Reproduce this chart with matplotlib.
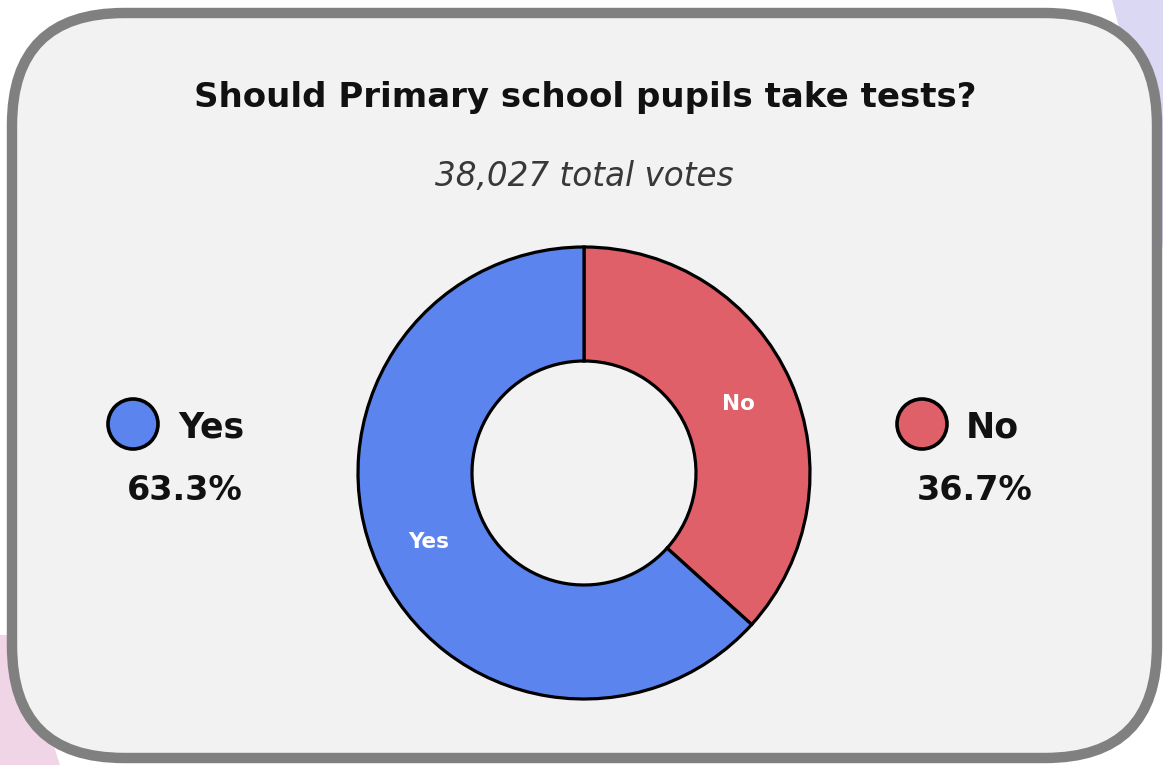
import matplotlib
matplotlib.use("Agg")
import matplotlib.pyplot as plt
from matplotlib.patches import FancyBboxPatch, Circle, Polygon

answers = ["No", "Yes"]
shares = [36.7, 63.3]
colors = ["#e0606a", "#5b84ef"]
title = "Should Primary school pupils take tests?"
subtitle = "38,027 total votes"

W, H = 1163, 765
fig = plt.figure(figsize=(W / 100, H / 100), dpi=100)
ax = fig.add_axes([0, 0, 1, 1])

# faint slide decoration behind the card
ax.add_patch(Polygon([(1112, H), (W, H), (W, H - 250), (1150, H - 150)],
                     closed=True, color="#d4d2f2", alpha=0.85, lw=0))
ax.add_patch(Polygon([(0, 130), (18, 130), (60, 0), (0, 0)],
                     closed=True, color="#eccbe0", alpha=0.8, lw=0))

# card with shadow
ax.add_patch(FancyBboxPatch((17, 4), 1143, 745,
                            boxstyle="round,pad=0,rounding_size=112",
                            fc="#9a9a9a", ec="none", alpha=0.45, zorder=1))
ax.add_patch(FancyBboxPatch((12, 7), 1145, 745,
                            boxstyle="round,pad=0,rounding_size=112",
                            fc="#f2f2f2", ec="#808080", lw=7.5, zorder=2))

ax.text(585, H - 97, title, ha="center", va="center", fontsize=24.5,
        fontweight="bold", color="#111111", zorder=3)
ax.text(584, H - 176, subtitle, ha="center", va="center", fontsize=23.5,
        fontstyle="italic", color="#383838", zorder=3)

wedges, texts = ax.pie(shares, labels=answers, colors=colors, startangle=90,
                       counterclock=False, center=(584, H - 473), radius=226,
                       labeldistance=0.75, frame=True,
                       wedgeprops=dict(width=114, edgecolor="black", linewidth=2.3),
                       textprops=dict(color="white", fontsize=15.5, fontweight="bold",
                                      ha="center", va="center"))
for w in wedges:
    w.set_zorder(3)
for t in texts:
    t.set_zorder(4)
ax.set_xlim(0, W)
ax.set_ylim(0, H)
ax.set_aspect("equal")
ax.axis("off")

# side legend
legend_pos = {"Yes": (133, 178, 185), "No": (922, 966, 975)}
for name, share, col in zip(answers, shares, colors):
    cx, tx, px = legend_pos[name]
    ax.add_patch(Circle((cx, H - 424), 25, fc=col, ec="black", lw=2.6, zorder=3))
    ax.text(tx, H - 427, name, ha="left", va="center", fontsize=25,
            fontweight="bold", color="#111111", zorder=3)
    ax.text(px, H - 490, f"{share}%", ha="center", va="center", fontsize=24,
            fontweight="bold", color="#111111", zorder=3)

fig.savefig("out.png", dpi=100, facecolor="white")
